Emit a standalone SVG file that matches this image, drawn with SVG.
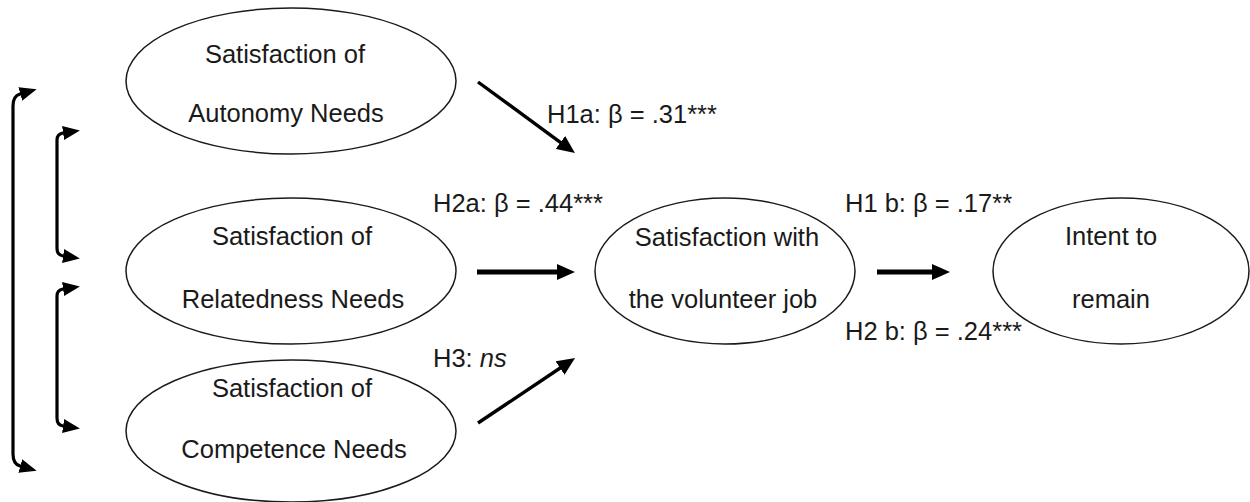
<svg xmlns="http://www.w3.org/2000/svg" width="1250" height="502" viewBox="0 0 1250 502">
  <style>
    .node ellipse { fill: #ffffff; stroke: #1a1a1a; stroke-width: 1.5; }
    text { font-family: "Liberation Sans", Arial, sans-serif; font-size: 25.5px; fill: #1a1a1a; }
    .nt { text-anchor: middle; }
    .conn { fill: none; stroke: #000000; }
    .thick { stroke-width: 5; }
    .mid { stroke-width: 3.4; }
    .brk { stroke-width: 3.2; }
  </style>
  <defs>
    <marker id="ah" viewBox="0 0 18 16" refX="10" refY="8" markerWidth="18" markerHeight="16" markerUnits="userSpaceOnUse" orient="auto">
      <path d="M0,0 L18,8 L0,16 z" fill="#000"/>
    </marker>
    <marker id="bh" viewBox="0 0 17 14" refX="7" refY="7" markerWidth="17" markerHeight="14" markerUnits="userSpaceOnUse" orient="auto-start-reverse">
      <path d="M0,0 L17,7 L0,14 z" fill="#000"/>
    </marker>
  </defs>

  <g id="autonomy" class="node">
    <ellipse cx="291" cy="81" rx="165" ry="73"/>
    <text class="nt" x="285" y="63">Satisfaction of</text>
    <text class="nt" x="286" y="122">Autonomy Needs</text>
  </g>
  <g id="relatedness" class="node">
    <ellipse cx="291" cy="271" rx="165" ry="73"/>
    <text class="nt" x="292" y="245">Satisfaction of</text>
    <text class="nt" x="293" y="308">Relatedness Needs</text>
  </g>
  <g id="competence" class="node">
    <ellipse cx="291" cy="431" rx="165" ry="71"/>
    <text class="nt" x="292" y="397">Satisfaction of</text>
    <text class="nt" x="294" y="458">Competence Needs</text>
  </g>
  <g id="job" class="node">
    <ellipse cx="725" cy="271" rx="130" ry="73"/>
    <text class="nt" x="727" y="246">Satisfaction with</text>
    <text class="nt" x="723" y="308">the volunteer job</text>
  </g>
  <g id="intent" class="node">
    <ellipse cx="1121" cy="271" rx="128" ry="73"/>
    <text class="nt" x="1111" y="245">Intent to</text>
    <text class="nt" x="1111" y="308">remain</text>
  </g>

  <g id="connectors">
    <line class="conn mid" x1="478" y1="82" x2="568.5" y2="148.3" marker-end="url(#ah)"/>
    <line class="conn thick" x1="477" y1="272" x2="567" y2="272" marker-end="url(#ah)"/>
    <line class="conn mid" x1="478" y1="423" x2="568.4" y2="362.5" marker-end="url(#ah)"/>
    <line class="conn thick" x1="877" y1="272" x2="942" y2="272" marker-end="url(#ah)"/>
    <path class="conn brk" d="M27 468 L20 466 Q13 464 13 454 L13 106 Q13 96 20 94 L27 92" marker-start="url(#bh)" marker-end="url(#bh)"/>
    <path class="conn brk" d="M70 257 L63 256 Q57 255 57 248 L57 140 Q57 134 63 133 L70 132" marker-start="url(#bh)" marker-end="url(#bh)"/>
    <path class="conn brk" d="M70 427 L63 426 Q57 425 57 418 L57 296 Q57 290 63 289 L70 288" marker-start="url(#bh)" marker-end="url(#bh)"/>
  </g>

  <g id="labels">
    <text x="547" y="123">H1a: β = .31***</text>
    <text x="433" y="212">H2a: β = .44***</text>
    <text x="433" y="367">H3: <tspan font-style="italic">ns</tspan></text>
    <text x="845" y="212">H1 b: β = .17**</text>
    <text x="845" y="340">H2 b: β = .24***</text>
  </g>
</svg>
